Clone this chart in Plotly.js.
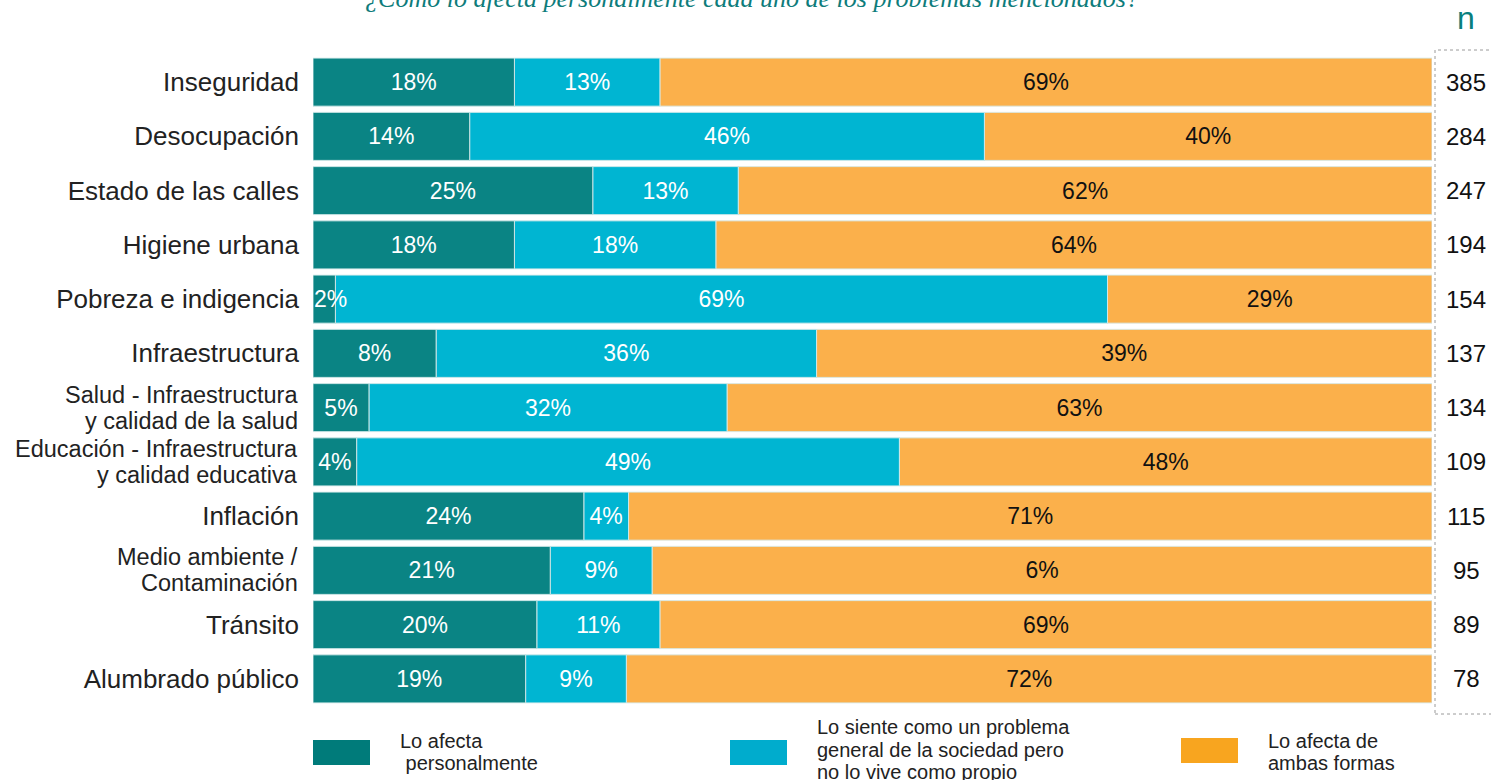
<!DOCTYPE html>
<html>
<head>
<meta charset="utf-8">
<script src="https://cdn.plot.ly/plotly-3.0.1.min.js"></script>
<style>html,body{margin:0;padding:0;background:#fff;}#chart{width:1491px;height:780px;}</style>
</head>
<body>
<div id="chart"></div>
<script>
// ---- data ----
const categories = [
  "Inseguridad",
  "Desocupación",
  "Estado de las calles",
  "Higiene urbana",
  "Pobreza e indigencia",
  "Infraestructura",
  "Salud - Infraestructura<br>y calidad de la salud",
  "Educación - Infraestructura<br>y calidad educativa",
  "Inflación",
  "Medio ambiente /<br>Contaminación",
  "Tránsito",
  "Alumbrado público"
];
// bar lengths (share of 100%) as drawn
const personalValues = [18, 14, 25, 18, 2, 11, 5, 3.9, 24.2, 21.2, 20, 19];
const societyValues  = [13, 46, 13, 18, 69, 34, 32, 48.5, 4, 9.1, 11, 9];
const bothValues     = [69, 40, 62, 64, 29, 55, 63, 47.6, 71.8, 69.7, 69, 72];
// printed labels
const personalLabels = ["18%","14%","25%","18%","2%","8%","5%","4%","24%","21%","20%","19%"];
const societyLabels  = ["13%","46%","13%","18%","69%","36%","32%","49%","4%","9%","11%","9%"];
const bothLabels     = ["69%","40%","62%","64%","29%","39%","63%","48%","71%","6%","69%","72%"];
const nValues = [385, 284, 247, 194, 154, 137, 134, 109, 115, 95, 89, 78];
const seriesNames = ["Lo afecta personalmente", "Lo siente como un problema general de la sociedad pero no lo vive como propio", "Lo afecta de ambas formas"];
const legendLines = [
  ["Lo afecta", "\u00a0personalmente"],
  ["Lo siente como un problema", "general de la sociedad pero", "no lo vive como propio"],
  ["Lo afecta de", "ambas formas"]
];
const titleText = "¿Cómo lo afecta personalmente cada uno de los problemas mencionados?";

// ---- styling ----
const barColors = ["#0A8484", "#00B5D2", "#FBB04B"];
const legendColors = ["#007B7A", "#00ACCD", "#F8A51F"];
const textColors = ["#ffffff", "#ffffff", "#111111"];
const FONT = "Liberation Sans, Arial, sans-serif";

// single-line categories as tick labels; two-line ones drawn as tight annotations
const tickText = categories.map(c => c.indexOf("<br>") >= 0 ? "" : c);

const valueSets = [personalValues, societyValues, bothValues];
const labelSets = [personalLabels, societyLabels, bothLabels];
// stacked bases (segments placed end to end)
const baseSets = [
  personalValues.map(() => 0),
  personalValues.slice(),
  personalValues.map((v, k) => v + societyValues[k])
];

// very thin first segments: nudge the label right so it starts at the bar's left edge
const shownText = (labels, vals, i) => labels.map((t, k) =>
  (i === 0 && vals[k] < 3) ? "\u00a0\u00a0" + t : t);

const traces = valueSets.map((vals, i) => ({
  type: "bar",
  orientation: "h",
  name: seriesNames[i],
  y: categories,
  x: vals,
  base: baseSets[i],
  text: shownText(labelSets[i], vals, i),
  textposition: "inside",
  insidetextanchor: "middle",
  textangle: 0,
  constraintext: "none",
  cliponaxis: false,
  textfont: {family: FONT, size: 23, color: textColors[i]},
  marker: {color: barColors[i], line: {color: "rgba(215,235,235,0.9)", width: 1}},
  hoverinfo: "none"
})).reverse(); // draw the first segment last so its labels stay on top

// plot area geometry (pixels) used for layout placement
const L = 313, R = 1432, T = 55, B = 706;
const px = x => (x - L) / (R - L);
const py = y => (B - y) / (B - T);

const annotations = [];
const shapes = [];

// two-line category labels
categories.forEach(c => {
  if (c.indexOf("<br>") < 0) return;
  const parts = c.split("<br>");
  parts.forEach((p, j) => {
    annotations.push({
      xref: "paper", yref: "y", x: px(300), y: c,
      yshift: j === 0 ? 13 : -13,
      text: p, showarrow: false, xanchor: "right", yanchor: "middle",
      font: {family: FONT, size: 23.5, color: "#222"}
    });
  });
});

// n column
nValues.forEach((n, i) => {
  annotations.push({
    xref: "paper", yref: "y", x: px(1466), y: categories[i],
    text: String(n), showarrow: false, xanchor: "center", yanchor: "middle",
    font: {family: FONT, size: 24, color: "#111"}
  });
});
annotations.push({
  xref: "paper", yref: "paper", x: px(1466), y: py(18),
  text: "n", showarrow: false, xanchor: "center", yanchor: "middle",
  font: {family: FONT, size: 32, color: "#0A7F7E"}
});
shapes.push({
  type: "rect", xref: "paper", yref: "paper",
  x0: px(1435), x1: px(1520), y0: py(714), y1: py(50),
  line: {color: "#9a9a9a", width: 1, dash: "dot"}, fillcolor: "rgba(0,0,0,0)"
});

// custom legend
const legendBoxes = [[313, 370, 740, 765], [730, 787, 740, 765], [1181, 1238, 738, 763]];
const legendTextX = [398, 815, 1266];
const legendLineY = [[741, 763], [727, 750, 772], [741, 763]];
legendBoxes.forEach((b, i) => {
  shapes.push({
    type: "rect", xref: "paper", yref: "paper",
    x0: px(b[0]), x1: px(b[1]), y0: py(b[3]), y1: py(b[2]),
    line: {width: 0}, fillcolor: legendColors[i]
  });
  legendLines[i].forEach((t, j) => {
    annotations.push({
      xref: "paper", yref: "paper", x: px(legendTextX[i]), y: py(legendLineY[i][j]),
      text: t, showarrow: false, xanchor: "left", yanchor: "middle",
      font: {family: FONT, size: 20, color: "#222"}
    });
  });
});

const layout = {
  width: 1491, height: 780,
  margin: {l: L, r: 1491 - R, t: T, b: 780 - B, pad: 0},
  paper_bgcolor: "#ffffff", plot_bgcolor: "#ffffff",
  barmode: "overlay",
  bargap: 0.115,
  showlegend: false,
  title: {
    text: "<i>" + titleText + "</i>",
    x: 752 / 1491, xanchor: "center", xref: "container",
    y: 1 - 7 / 780, yanchor: "bottom", yref: "container",
    font: {family: "Liberation Serif, DejaVu Serif, serif", size: 26, color: "#0E7C7B"}
  },
  xaxis: {
    range: [0, 100], showgrid: false, zeroline: false, showticklabels: false,
    showline: false, ticks: "", fixedrange: true
  },
  yaxis: {
    type: "category", autorange: "reversed",
    tickvals: categories, ticktext: tickText,
    showgrid: false, zeroline: false, showline: false, ticks: "",
    ticklabelstandoff: 13,
    tickfont: {family: FONT, size: 26, color: "#222"}
  },
  annotations: annotations,
  shapes: shapes,
  font: {family: FONT}
};

Plotly.newPlot("chart", traces, layout, {displayModeBar: false, staticPlot: true});
</script>
</body>
</html>
